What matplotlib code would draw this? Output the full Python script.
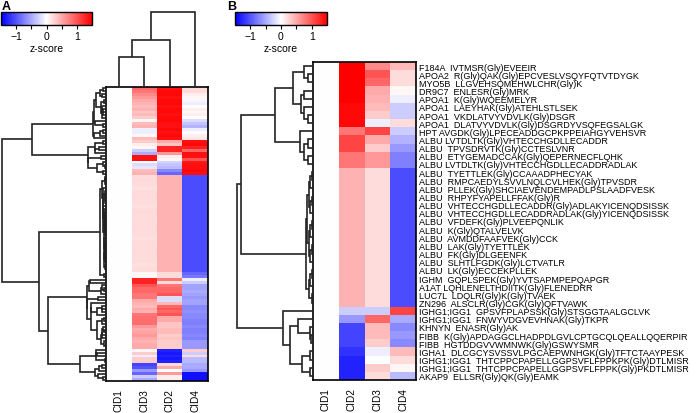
import numpy as np
import matplotlib
matplotlib.use("Agg")
import matplotlib.pyplot as plt
from matplotlib.cm import ScalarMappable
from matplotlib.colors import Normalize

plt.rcParams['font.family'] = ['Liberation Sans', 'DejaVu Sans']

W, H = 696, 414

# ---------------- panel A data (z-scores, rows top to bottom) ----------------
colsA = ['CID1', 'CID3', 'CID2', 'CID4']
a_cid3 = [0.9, 0.8, 0.7, 0.6, 0.5, 0.45, 0.4, 0.45, 0.35, 0.4, 0.3, 0.05, 0.4, 0.45, -0.1, -0.1, 0.05, 0.4,
          0.3, 0.1, 0.05, -0.3, -0.5, 1.4, 1.4, 0.0, -0.2, -0.15, 0.4, 0.45,
          0.2, 0.22, 0.2, 0.2, 0.18, 0.2, 0.22, 0.2, 0.2, 0.2, 0.18, 0.2, 0.22, 0.2, 0.2, 0.2, 0.2, 0.22,
          0.2, 0.2, 0.2, 0.18, 0.2, 0.2, 0.2, 0.22, 0.2, 0.2, 0.2, 0.2, 0.18, 0.2, 0.2, 0.05, 0.05,
          1.3, 1.3, 1.0, 0.9, 0.9, 0.8, 0.8, 0.5, 0.45, 0.4, 0.5, 0.45, 0.8, 0.85, 0.85, 0.85, 0.6, 0.5,
          0.55, 0.6, 0.5, 0.45, 0.5, 0.5,
          0.05, 0.3, -0.1, 0.3, 0.3,
          -1.1, -1.0, -0.6, -0.9, -0.3, -0.5]
a_cid2 = [1.4, 1.45, 1.45, 1.4, 1.45, 1.45, 1.4, 1.45, 1.45, 1.4, 1.45, 1.45, 1.4, 1.4, 1.45, 1.4, 1.45, 1.4,
          0.5, 0.35, 1.3, 1.3, 0.6, 0.1, 0.05, -0.25, -0.35, -0.4, -0.7, -0.9,
          0.45, 0.45, 0.45, 0.45, 0.45, 0.45, 0.45, 0.45, 0.45, 0.45, 0.45, 0.45, 0.45, 0.45, 0.45, 0.45,
          0.45, 0.45, 0.45, 0.45, 0.45, 0.45, 0.45, 0.45, 0.45, 0.45, 0.45, 0.45, 0.45, 0.45, 0.45, 0.45,
          0.45, 0.2, 0.2,
          0.8, 0.2, 0.8, 0.9, 0.9, 1.0, -0.2, -0.2, 0.4, 0.9, 1.0, 0.9, 1.0, 0.5, 0.5, 0.35, 0.35, 0.4,
          0.4, 0.3, 0.35, 0.3, 0.3, 0.3,
          -1.3, -1.35, -1.3, -1.35, -1.3,
          0.2, 0.5, 0.0, 0.6, 0.1, 0.1]
a_cid4 = [0.2, 0.2, 0.1, 0.05, -0.05, -0.1, 0.0, 0.1, 0.05, 0.1, 0.0, -0.2, -0.35, -0.45, -0.1, 0.0, 0.1, 0.15,
          1.4, 1.45, 1.3, 0.9, 1.4, 1.4, 1.0, 1.35, 1.4, 1.4, 1.45, 1.4,
          -1.05, -1.05, -1.05, -1.05, -1.05, -1.05, -1.05, -1.05, -1.05, -1.05, -1.05, -1.05, -1.05,
          -1.05, -1.05, -1.05, -1.05, -1.05, -1.05, -1.05, -1.05, -1.05, -1.05, -1.05, -1.05, -1.05,
          -1.05, -1.05, -1.05, -1.05, -1.05, -1.05, -1.05, -0.9, -0.8,
          -0.1, -0.3, -0.55, -0.55, -0.5, -0.55, -0.6, -0.55, -0.55, -0.7, -0.7, -0.65, -0.7, -0.7, -0.75,
          -0.75, -0.7, -0.75, -0.75, -0.7, -0.75, -0.6, -0.6, -0.6,
          0.3, -0.3, 0.2, -0.4, -0.4,
          -0.5, -0.5, -0.6, -1.4, -1.4, -1.4]
a_cid1 = [0.0] * len(a_cid3)

# row blocks of panel A and the heights (px) of their dendrogram nodes
a_blocks = [(0, 18, 13), (18, 30, 18), (30, 65, 6), (65, 89, 19), (89, 94, 10), (94, 100, 11)]
# column tree of panel A: (height, left, right)
a_coltree = (75, (47, (30, 0, 1), 2), 3)

# ---------------- panel B data ----------------
colsB = ['CID1', 'CID2', 'CID3', 'CID4']
b_labels = [
    'F184A  IVTMSR(Gly)EVEEIR',
    'APOA2  R(Gly)QAK(Gly)EPCVESLVSQYFQTVTDYGK',
    'MYO5B  LLGVEHSQMEHWLCHR(Gly)K',
    'DR9C7  ENLESR(Gly)MRK',
    'APOA1  K(Gly)WQEEMELYR',
    'APOA1  LAEYHAK(Gly)ATEHLSTLSEK',
    'APOA1  VKDLATVYVDVLK(Gly)DSGR',
    'APOA1  DLATVYVDVLK(Gly)DSGRDYVSQFEGSALGK',
    'HPT AVGDK(Gly)LPECEADDGCPKPPEIAHGYVEHSVR',
    'ALBU LVTDLTK(Gly)VHTECCHGDLLECADDR',
    'ALBU  TPVSDRVTK(Gly)CCTESLVNR',
    'ALBU  ETYGEMADCCAK(Gly)QEPERNECFLQHK',
    'ALBU LVTDLTK(Gly)VHTECCHGDLLECADDRADLAK',
    'ALBU  TYETTLEK(Gly)CCAAADPHECYAK',
    'ALBU  RMPCAEDYLSVVLNQLCVLHEK(Gly)TPVSDR',
    'ALBU  PLLEK(Gly)SHCIAEVENDEMPADLPSLAADFVESK',
    'ALBU  RHPYFYAPELLFFAK(Gly)R',
    'ALBU  VHTECCHGDLLECADDR(Gly)ADLAKYICENQDSISSK',
    'ALBU  VHTECCHGDLLECADDRADLAK(Gly)YICENQDSISSK',
    'ALBU  VFDEFK(Gly)PLVEEPQNLIK',
    'ALBU  K(Gly)QTALVELVK',
    'ALBU  AVMDDFAAFVEK(Gly)CCK',
    'ALBU  LAK(Gly)TYETTLEK',
    'ALBU  FK(Gly)DLGEENFK',
    'ALBU  SLHTLFGDK(Gly)LCTVATLR',
    'ALBU  LK(Gly)ECCEKPLLEK',
    'IGHM  GQPLSPEK(Gly)YVTSAPMPEPQAPGR',
    'A1AT LQHLENELTHDIITK(Gly)FLENEDRR',
    'LUC7L  LDQLR(Gly)K(Gly)TVAEK',
    'ZN296  ALSCLR(Gly)CGK(Gly)QFTVAWK',
    'IGHG1;IGG1  GPSVFPLAPSSK(Gly)STSGGTAALGCLVK',
    'IGHG1;IGG1  FNWYVDGVEVHNAK(Gly)TKPR',
    'KHNYN  ENASR(Gly)AK',
    'FIBB  K(Gly)APDAGGCLHADPDLGVLCPTGCQLQEALLQQERPIR',
    'FIBB  HGTDDGVVWMNWK(Gly)GSWYSMR',
    'IGHA1  DLCGCYSVSSVLPGCAEPWNHGK(Gly)TFTCTAAYPESK',
    'IGHG1;IGG1  THTCPPCPAPELLGGPSVFLFPPKPK(Gly)DTLMISR',
    'IGHG1;IGG1  THTCPPCPAPELLGGPSVFLFPPK(Gly)PKDTLMISR',
    'AKAP9  ELLSR(Gly)QK(Gly)EAMK',
]
b_cid2 = [1.5, 1.5, 1.5, 1.5, 1.5, 1.45, 1.45, 1.45, 0.8, 1.1, 1.1, 0.8, 0.8,
          0.45, 0.45, 0.45, 0.45, 0.45, 0.45, 0.45, 0.45, 0.45, 0.45, 0.45, 0.45, 0.45, 0.45, 0.45, 0.45, 0.45,
          -0.3, -0.6, -1.1, -1.1, -1.1, -1.2, -1.3, -1.3, -1.3]
b_cid3 = [0.7, 1.0, 0.9, 0.5, 0.45, 0.4, 0.3, -0.1, 1.1, 0.5, 0.3, 0.6, 0.6,
          0.2, 0.2, 0.2, 0.2, 0.2, 0.2, 0.2, 0.2, 0.2, 0.2, 0.2, 0.2, 0.2, 0.2, 0.2, 0.2, 0.2,
          -0.3, 0.9, 0.4, 0.4, 0.3, -0.1, 0.0, 0.3, 0.2]
b_cid4 = [0.4, 0.2, 0.2, 0.05, -0.1, -0.3, -0.3, 0.2, -0.3, -0.45, -0.6, -0.75, -0.75,
          -1.05, -1.05, -1.05, -1.05, -1.05, -1.05, -1.05, -1.05, -1.05, -1.05, -1.05, -1.05, -1.05,
          -1.05, -1.05, -1.05, -1.05,
          1.1, -0.5, -0.7, -0.6, -0.7, 0.4, 0.2, 0.05, -0.4]
b_cid1 = [0.0] * len(b_cid2)

# row tree of panel B: (height, left, right), leaves are row indices
b_top1 = (38, (20, (9, 0, (5, 1, 2)), (12, (9, 3, 4), (9, 5, (5, 6, 7)))),
          (13, 8, (9, (5, 9, 10), (5, 11, 12))))
b_albu = (13, 30, 7)   # block of near-identical rows, top node height
b_bottom = (30, 30, (23, (15, 31, (3, 32, (2, 33, 34))), (11, (3, 35, 36), (3, 37, 38))))


def chain(data, start, stop, top):
    # neighbour-only average linkage inside a block, heights scaled to the block top
    nodes = [(i, [i], 0.0) for i in range(start, stop)]
    while len(nodes) > 1:
        d = [np.linalg.norm(data[nodes[k][1]].mean(0) - data[nodes[k + 1][1]].mean(0))
             for k in range(len(nodes) - 1)]
        k = int(np.argmin(d))
        l, r = nodes[k], nodes[k + 1]
        h = max(d[k], l[2], r[2]) + 0.02
        nodes[k:k + 2] = [((h, l[0], r[0]), l[1] + r[1], h)]
    root = nodes[0]

    def scale(n, f):
        if isinstance(n, int):
            return n
        return (n[0] * f, scale(n[1], f), scale(n[2], f))
    return scale(root[0], top / root[2])


def draw(ax, node, vertical=False, **kw):
    if isinstance(node, int):
        return node + 0.5, 0
    h, l, r = node
    pl, hl = draw(ax, l, vertical, **kw)
    pr, hr = draw(ax, r, vertical, **kw)
    if vertical:
        ax.plot([pl, pl, pr, pr], [hl, h, h, hr], **kw)
    else:
        ax.plot([hl, h, h, hr], [pl, pl, pr, pr], **kw)
    return (pl + pr) / 2, h


def px_axes(x0, y0, x1, y1):
    return fig.add_axes([x0 / W, 1 - y1 / H, (x1 - x0) / W, (y1 - y0) / H])


cmap = plt.get_cmap('bwr')
norm = Normalize(-1.5, 1.5)
lk = dict(color='#222222', lw=1.2, solid_capstyle='butt', solid_joinstyle='miter')

fig = plt.figure(figsize=(W / 100, H / 100), dpi=100)


def colorbar(x0, x1):
    cax = px_axes(x0, 13, x1, 26)
    cb = fig.colorbar(ScalarMappable(norm=norm, cmap=cmap), cax=cax, orientation='horizontal')
    cb.set_ticks([-1, -0.5, 0, 0.5, 1])
    cb.set_ticklabels(['\u22121', '', '0', '', '1'])
    cb.ax.tick_params(labelsize=7.5, length=3, width=0.8, pad=1.5)
    cb.outline.set_linewidth(1)
    cb.set_label('z-score', fontsize=7.5, labelpad=1)


def heatmap(x0, y0, x1, y1, mat, cols, labels=None):
    ax = px_axes(x0, y0, x1, y1)
    ax.pcolormesh(mat, cmap=cmap, norm=norm)
    ax.set_xlim(0, mat.shape[1])
    ax.set_ylim(mat.shape[0], 0)
    ax.set_xticks(np.arange(len(cols)) + 0.5)
    ax.set_xticklabels(cols, rotation=90, fontsize=7.2)
    ax.tick_params(axis='x', length=0, pad=5)
    if labels is None:
        ax.set_yticks([])
    else:
        ax.yaxis.tick_right()
        ax.set_yticks(np.arange(len(labels)) + 0.5)
        ax.set_yticklabels(labels, fontsize=6.5)
        ax.tick_params(axis='y', length=0, pad=2.5)
    for s in ax.spines.values():
        s.set_linewidth(1.2)
    return ax


# ---------------- panel A ----------------
matA = np.column_stack([a_cid1, a_cid3, a_cid2, a_cid4])
nA = matA.shape[0]
heatmap(106, 88, 208, 382, matA, colsA)
colorbar(1, 92)
fig.text(2 / W, 1 - 1 / H, 'A', fontsize=9, fontweight='bold', va='top')

blk = [chain(matA, s, e, t) for s, e, t in a_blocks]
treeA = (104, (74, blk[0], blk[1]), (67, blk[2], (58, blk[3], (26, blk[4], blk[5]))))
rdA = px_axes(0, 88, 106, 382)
draw(rdA, treeA, **lk)
rdA.set_xlim(106, 0)
rdA.set_ylim(nA, 0)
rdA.axis('off')

cdA = px_axes(106, 8, 208, 88)
draw(cdA, a_coltree, vertical=True, **lk)
cdA.set_xlim(0, 4)
cdA.set_ylim(0, 80)
cdA.axis('off')

# ---------------- panel B ----------------
matB = np.column_stack([b_cid1, b_cid2, b_cid3, b_cid4])
nB = matB.shape[0]
heatmap(313, 63, 416, 381, matB, colsB, b_labels)
colorbar(235, 327)
fig.text(227 / W, 1 - 1 / H, 'B', fontsize=9, fontweight='bold', va='top')

mid = chain(matB, b_albu[0], b_albu[1], b_albu[2])
treeB = (76, (72, b_top1, mid), b_bottom)
rdB = px_axes(236, 63, 313, 381)
draw(rdB, treeB, **lk)
rdB.set_xlim(77, 0)
rdB.set_ylim(nB, 0)
rdB.axis('off')

fig.savefig('out.png', dpi=100)
